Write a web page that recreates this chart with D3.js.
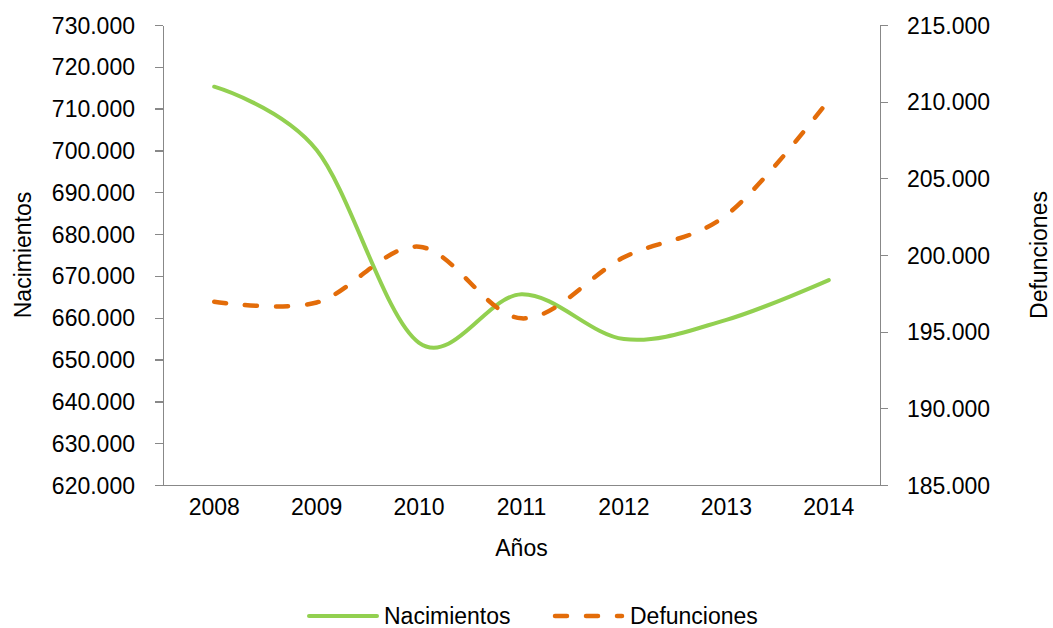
<!DOCTYPE html>
<html>
<head>
<meta charset="utf-8">
<script src="https://cdn.jsdelivr.net/npm/d3@7"></script>
<style>
  body { margin: 0; background: #fff; }
  text { font-family: "Liberation Sans", Arial, sans-serif; fill: #000; }
  .axis path, .axis line { stroke: #888; stroke-width: 1.3; shape-rendering: crispEdges; }
  .axis text { font-size: 23px; }
</style>
</head>
<body>
<svg id="chart" width="1053" height="628"></svg>
<script>
const width = 1053, height = 628;
let padding = {top: 25, right: 173, bottom: 143, left: 163};

// data
const years = ["2008", "2009", "2010", "2011", "2012", "2013", "2014"];
const nacimientos = [715250, 700100, 654000, 665600, 654900, 659500, 669000];
const defunciones = [196950, 196900, 200540, 195870, 199850, 202600, 210100];
const leftTicks = d3.range(620000, 730001, 10000);
const rightTicks = d3.range(185000, 215001, 5000);

const GreenCol = "#92D050";
const OrangeCol = "#E36C09";

const svg = d3.select("#chart");
const fmt = d => d3.format(",")(d).replace(/,/g, ".");

// X axis, categories
let x = d3.scaleBand()
  .domain(years)
  .range([padding.left, width - padding.right]);

let yL = d3.scaleLinear()
  .domain([620000, 730000])
  .range([height - padding.bottom, padding.top]);

let yR = d3.scaleLinear()
  .domain([185000, 215000])
  .range([height - padding.bottom, padding.top]);

svg.append("g")
  .attr("class", "axis x")
  .attr("transform", "translate(0," + (height - padding.bottom) + ")")
  .call(d3.axisBottom(x).tickSize(0).tickPadding(30).tickSizeOuter(0))
  .call(g => g.selectAll("text").attr("dy", "0"));

svg.append("g")
  .attr("class", "axis yleft")
  .attr("transform", "translate(" + padding.left + ",0)")
  .call(d3.axisLeft(yL).tickValues(leftTicks).tickFormat(fmt).tickSize(8).tickSizeOuter(0).tickPadding(20))
  .call(g => g.selectAll("text").attr("dy", "0.35em"));

svg.append("g")
  .attr("class", "axis yright")
  .attr("transform", "translate(" + (width - padding.right) + ",0)")
  .call(d3.axisRight(yR).tickValues(rightTicks).tickFormat(fmt).tickSize(8).tickSizeOuter(0).tickPadding(19))
  .call(g => g.selectAll("text").attr("dy", "0.35em"));

// smoothed lines (Excel style)
const cx = d => x(d) + x.bandwidth() / 2;

svg.append("path")
  .datum(years.map((d, i) => [d, nacimientos[i]]))
  .attr("fill", "none")
  .attr("stroke", GreenCol)
  .attr("stroke-width", 4)
  .attr("stroke-linecap", "round")
  .attr("d", d3.line()
    .x(d => cx(d[0]))
    .y(d => yL(d[1]))
    .curve(d3.curveCardinal.tension(0)));

svg.append("path")
  .datum(years.map((d, i) => [d, defunciones[i]]))
  .attr("fill", "none")
  .attr("stroke", OrangeCol)
  .attr("stroke-width", 4.5)
  .attr("stroke-linecap", "round")
  .attr("stroke-dasharray", "12,19")
  .attr("d", d3.line()
    .x(d => cx(d[0]))
    .y(d => yR(d[1]))
    .curve(d3.curveCardinal.tension(0)));

// ------------ axis titles ------------ //
const midY = (padding.top + height - padding.bottom) / 2;

svg.append("text")
  .attr("transform", "translate(31," + midY + ") rotate(-90)")
  .attr("text-anchor", "middle")
  .style("font-size", "23px")
  .text("Nacimientos");

svg.append("text")
  .attr("transform", "translate(1047," + midY + ") rotate(-90)")
  .attr("text-anchor", "middle")
  .style("font-size", "23px")
  .text("Defunciones");

svg.append("text")
  .attr("x", (padding.left + width - padding.right) / 2)
  .attr("y", 556)
  .attr("text-anchor", "middle")
  .style("font-size", "23px")
  .text("Años");

// ------------ legend ------------ //
const legend = svg.append("g").attr("transform", "translate(0,616)");

legend.append("line")
  .attr("x1", 309).attr("x2", 377)
  .attr("stroke", GreenCol).attr("stroke-width", 4).attr("stroke-linecap", "round");
legend.append("text")
  .attr("x", 384).attr("dy", "0.35em")
  .style("font-size", "23px")
  .text("Nacimientos");

legend.append("line")
  .attr("x1", 555).attr("x2", 622)
  .attr("stroke", OrangeCol).attr("stroke-width", 4.5).attr("stroke-linecap", "round")
  .attr("stroke-dasharray", "12,19");
legend.append("text")
  .attr("x", 630).attr("dy", "0.35em")
  .style("font-size", "23px")
  .text("Defunciones");
</script>
</body>
</html>
